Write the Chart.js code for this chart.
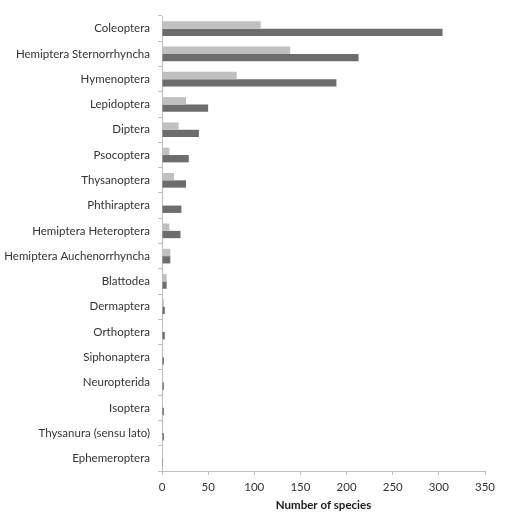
<!DOCTYPE html>
<html>
<head>
<meta charset="utf-8">
<script src="https://cdn.jsdelivr.net/npm/chart.js@4.4.1/dist/chart.umd.min.js"></script>
<style>
  html, body { margin: 0; padding: 0; background: #fff; }
  #wrap { width: 510px; height: 525px; }
</style>
</head>
<body>
<div id="wrap"><canvas id="speciesChart"></canvas></div>
<script>
// Chart Data
const orders = [
  "Coleoptera",
  "Hemiptera Sternorrhyncha",
  "Hymenoptera",
  "Lepidoptera",
  "Diptera",
  "Psocoptera",
  "Thysanoptera",
  "Phthiraptera",
  "Hemiptera Heteroptera",
  "Hemiptera Auchenorrhyncha",
  "Blattodea",
  "Dermaptera",
  "Orthoptera",
  "Siphonaptera",
  "Neuropterida",
  "Isoptera",
  "Thysanura (sensu lato)",
  "Ephemeroptera",
];
const lightValues = [107, 139, 81, 26, 18, 8, 13, 0, 8, 9, 5, 2, 1, 0, 0, 0, 1, 1];
const darkValues = [304, 213, 189, 50, 40, 29, 26, 21, 20, 9, 5, 3, 3, 2, 2, 2, 2, 1];
const xTicks = [0, 50, 100, 150, 200, 250, 300, 350];

const axisGray = "#bfbfbf";
const font = { family: "Lato, 'Open Sans', sans-serif", size: 11.5 };

const config = {
  type: "bar",
  data: {
    labels: orders,
    datasets: [
      {
        data: lightValues,
        backgroundColor: "#c0c0c0",
        borderWidth: 0,
        barPercentage: 1.0,
        categoryPercentage: 0.58,
      },
      {
        data: darkValues,
        backgroundColor: "#6d6d6d",
        borderWidth: 0,
        barPercentage: 1.0,
        categoryPercentage: 0.58,
      },
    ],
  },
  options: {
    indexAxis: "y",
    responsive: false,
    animation: false,
    layout: { padding: { top: 16, right: 25, left: 0, bottom: 13 } },
    plugins: {
      legend: { display: false },
      tooltip: { enabled: false },
    },
    scales: {
      y: {
        grid: {
          drawOnChartArea: false,
          drawTicks: true,
          tickLength: 4,
          color: axisGray,
          offset: true,
        },
        border: { color: axisGray },
        ticks: { color: "#333333", font: font, padding: 8 },
        afterFit: function (scale) {
          scale.width = 162;
        },
      },
      x: {
        min: 0,
        max: 350,
        afterBuildTicks: function (scale) {
          scale.ticks = xTicks.map(function (v) { return { value: v }; });
        },
        grid: {
          drawOnChartArea: false,
          drawTicks: true,
          tickLength: 4,
          color: axisGray,
        },
        border: { color: axisGray },
        ticks: { color: "#333333", font: font, padding: 5 },
        title: {
          display: true,
          text: "Number of species",
          color: "#1a1a1a",
          font: { family: font.family, size: 11.5, weight: "bold" },
          padding: { top: 4, bottom: 0 },
        },
        afterFit: function (scale) {
          scale.height = 41;
        },
      },
    },
  },
};

const canvas = document.getElementById("speciesChart");
canvas.width = 510;
canvas.height = 525;
new Chart(canvas, config);
</script>
</body>
</html>
